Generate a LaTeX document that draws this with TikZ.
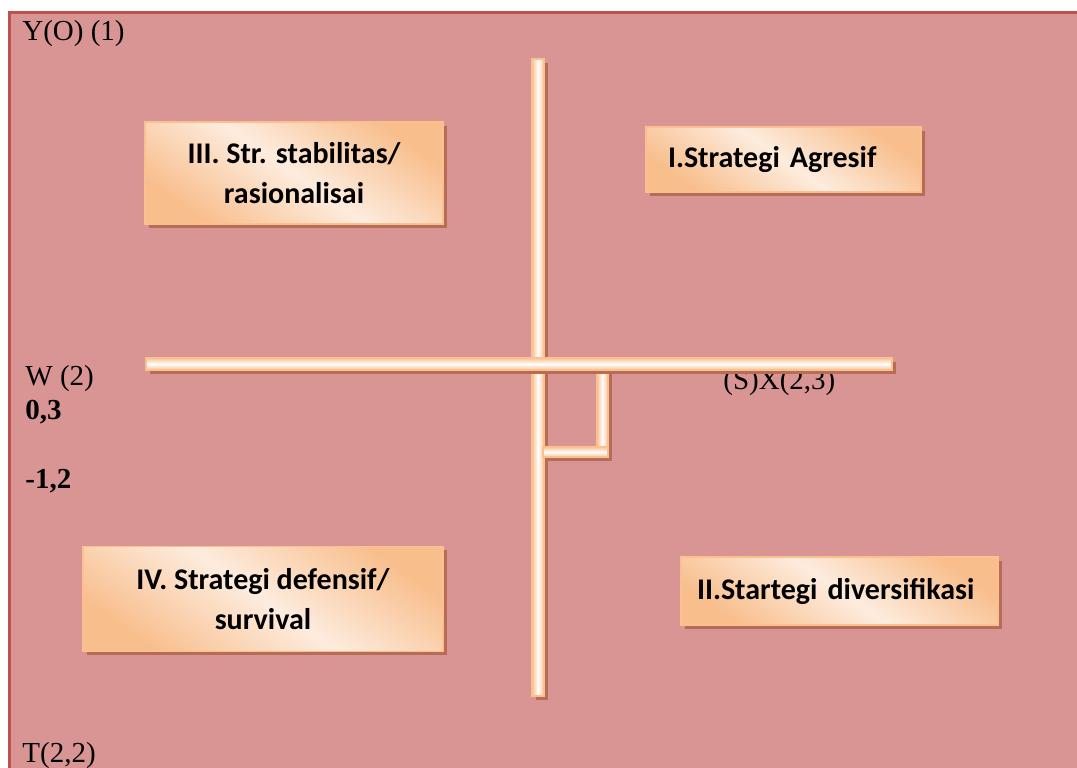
\documentclass[tikz,border=0pt]{standalone}
\usepackage{fontspec}
\setmainfont{Liberation Serif}
\newfontfamily\boxfont{Carlito}
\usepackage{tikz}
\usetikzlibrary{shadows}
\usepackage{xcolor}
\definecolor{PaperPink}{RGB}{217,149,148}
\definecolor{FrameRed}{RGB}{192,80,77}
\definecolor{BarOrange}{RGB}{250,192,144}
\definecolor{BoxOrange}{RGB}{248,190,140}
\definecolor{BoxCream}{RGB}{253,236,222}
\definecolor{ShadowBrown}{RGB}{183,108,85}
\tikzset{
	brown shadow/.style={drop shadow={shadow xshift=1.8pt, shadow yshift=-1.8pt, fill=ShadowBrown, opacity=1}},
	vbar/.style={brown shadow, draw=BarOrange, line width=.8pt, left color=BarOrange, right color=BarOrange, middle color=white},
	hbar/.style={brown shadow, draw=BarOrange, line width=.8pt, top color=BarOrange, bottom color=BarOrange, middle color=white},
	quadbox/.style={brown shadow, draw=BarOrange, line width=.8pt, top color=BoxOrange, bottom color=BoxOrange, middle color=BoxCream, shading angle=-35,
		font=\boxfont\bfseries\fontsize{15}{20}\selectfont, inner sep=0pt},
	axislabel/.style={anchor=base west, inner sep=0pt, font=\fontsize{14.5}{17}\selectfont}
}

\begin{document}
\begin{tikzpicture}[x=.5pt, y=-.5pt]
	\useasboundingbox (0,0) rectangle (1077,767);
%
	%paper and frame
	\fill[PaperPink] (9,12) rectangle (1100,800);
	\draw[FrameRed, line width=1.5pt] (9,800) -- (9,12) -- (1100,12);
%
	%corner and side labels
	\node[axislabel] (yo) at (22,40) {Y(O) (1)};
	\node[axislabel] (w2) at (25,385) {W (2)};
	\node[axislabel, font=\fontsize{14.5}{17}\selectfont\bfseries] (v03) at (25,419) {0,3};
	\node[axislabel, font=\fontsize{14.5}{17}\selectfont\bfseries] (v12) at (25,488) {-1,2};
	\node[axislabel] (sx) at (723,389) {(S)X(2,3)};
	\node[axislabel] (t22) at (22,762) {T(2,2)};
%
	%axes
	\coordinate (vtop) at (532,59);
	\coordinate (vbot) at (544,696);
	\coordinate (hleft) at (146,358);
	\coordinate (hright) at (892,370);
	\path[vbar] (vtop) rectangle (vbot);
	\path[vbar] (597,370) rectangle (608,457);
	\path[hbar] (543,447) rectangle (608,457);
	\path[hbar] (hleft) rectangle (hright);
%
	%quadrants
	\node[quadbox, minimum width=149pt, minimum height=51pt, align=center] (q3) at (294,173) {III. Str. stabilitas/\\rasionalisai};
	\node[quadbox, minimum height=32.5pt, inner xsep=11pt, text width=115.5pt, align=left] (q1) at (783.5,159.5) {I.Strategi Agresif};
	\node[quadbox, minimum width=180pt, minimum height=52.5pt, align=center] (q4) at (263,599) {IV. Strategi defensif/\\survival};
	\node[quadbox, minimum height=34pt, inner xsep=8pt, text width=142.5pt, align=left] (q2) at (839.5,591) {II.Startegi diversifikasi};
\end{tikzpicture}
\end{document}
